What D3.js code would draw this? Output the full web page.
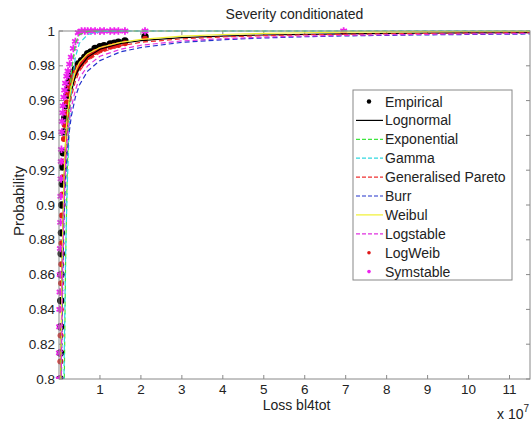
<!DOCTYPE html>
<html>
<head>
<meta charset="utf-8">
<script src="https://cdn.jsdelivr.net/npm/d3@7"></script>
<style>
  body { margin: 0; background: #fff; }
  text { font-family: "Liberation Sans", Arial, sans-serif; fill: #222; }
</style>
</head>
<body>
<div id="chart"></div>
<script>
// loss values are in units of 1e7
var xGrid = [0.005, 0.01, 0.02, 0.03, 0.05, 0.08, 0.12, 0.16, 0.2, 0.25, 0.3, 0.4, 0.5, 0.7, 1, 1.5, 2, 3, 4, 5, 6, 7, 8, 9, 10, 11, 11.5];

var lognormal   = [0.55, 0.62, 0.70, 0.75, 0.81, 0.87, 0.912, 0.935, 0.948, 0.958, 0.965, 0.974, 0.979, 0.985, 0.9895, 0.9928, 0.9945, 0.9962, 0.9971, 0.9977, 0.9981, 0.9984, 0.9986, 0.9988, 0.9989, 0.9990, 0.9991];
var exponential = [0.06, 0.12, 0.22, 0.31, 0.46, 0.63, 0.78, 0.865, 0.918, 0.956, 0.976, 0.993, 0.998, 0.9998, 1, 1, 1, 1, 1, 1, 1, 1, 1, 1, 1, 1, 1];
var gamma       = [0.15, 0.22, 0.33, 0.41, 0.54, 0.68, 0.80, 0.87, 0.91, 0.945, 0.965, 0.985, 0.993, 0.998, 0.9997, 1, 1, 1, 1, 1, 1, 1, 1, 1, 1, 1, 1];
var genPareto   = [0.50, 0.58, 0.67, 0.73, 0.80, 0.86, 0.905, 0.93, 0.944, 0.955, 0.962, 0.971, 0.977, 0.983, 0.9875, 0.9915, 0.9935, 0.9955, 0.9966, 0.9973, 0.9978, 0.9981, 0.9984, 0.9986, 0.9988, 0.9989, 0.9990];
var burr        = [0.45, 0.54, 0.64, 0.70, 0.78, 0.845, 0.89, 0.915, 0.93, 0.942, 0.951, 0.962, 0.969, 0.977, 0.983, 0.988, 0.9905, 0.9935, 0.9950, 0.9960, 0.9967, 0.9972, 0.9975, 0.9978, 0.9980, 0.9982, 0.9983];
var weibul      = [0.52, 0.60, 0.69, 0.75, 0.815, 0.873, 0.915, 0.938, 0.951, 0.961, 0.968, 0.977, 0.982, 0.987, 0.9905, 0.9935, 0.9952, 0.9970, 0.9980, 0.9986, 0.9990, 0.9993, 0.9995, 0.9996, 0.9997, 0.9998, 0.9998];
var logstable   = [0.48, 0.57, 0.66, 0.72, 0.79, 0.852, 0.897, 0.922, 0.937, 0.948, 0.956, 0.966, 0.973, 0.980, 0.9855, 0.9895, 0.9918, 0.9943, 0.9956, 0.9965, 0.9971, 0.9975, 0.9978, 0.9981, 0.9983, 0.9985, 0.9986];

// point series
var empX     = [0.005, 0.01, 0.015, 0.02, 0.025, 0.03, 0.035, 0.04, 0.045, 0.05, 0.055, 0.06, 0.07, 0.08, 0.09, 0.10, 0.12, 0.14, 0.16, 0.19, 0.22, 0.26, 0.30, 0.35, 0.40, 0.47, 0.55, 0.63, 0.70, 0.78, 0.88, 1.00, 1.10, 1.25, 1.35, 1.45, 1.61, 2.10, 6.95];
var empP     = [0.70, 0.73, 0.76, 0.78, 0.79, 0.800, 0.815, 0.830, 0.845, 0.860, 0.872, 0.884, 0.900, 0.912, 0.922, 0.930, 0.942, 0.950, 0.957, 0.963, 0.967, 0.971, 0.974, 0.976, 0.978, 0.981, 0.983, 0.985, 0.987, 0.988, 0.990, 0.991, 0.9915, 0.9925, 0.993, 0.9935, 0.9943, 0.9967, null];
var logWeibP = [0.69, 0.72, 0.75, 0.77, 0.785, 0.795, 0.81, 0.825, 0.84, 0.855, 0.866, 0.878, 0.894, 0.906, 0.916, 0.925, 0.938, 0.946, 0.953, 0.959, 0.964, 0.968, 0.971, 0.974, 0.976, 0.979, 0.981, 0.983, 0.985, 0.986, 0.988, 0.989, 0.990, 0.991, 0.9915, 0.992, 0.993, 0.9955, 0.9995];
var symP     = [0.80, 0.815, 0.83, 0.84, 0.85, 0.86, 0.875, 0.89, 0.905, 0.915, 0.925, 0.932, 0.942, 0.948, 0.953, 0.957, 0.962, 0.966, 0.970, 0.974, 0.977, 0.981, 0.985, 0.990, 0.994, 0.999, 1, 1, 1, 1, 1, 1, 1, 1, 1, 1, 1, 1, 1];

var xTicks = [1, 2, 3, 4, 5, 6, 7, 8, 9, 10, 11];
var yTicks = [0.8, 0.82, 0.84, 0.86, 0.88, 0.9, 0.92, 0.94, 0.96, 0.98, 1];

var lineSeries = [
  { name: "Lognormal", vals: lognormal, color: "#000", dash: null },
  { name: "Exponential", vals: exponential, color: "#3ee63e", dash: "5,3" },
  { name: "Gamma", vals: gamma, color: "#30d8e0", dash: "5,3" },
  { name: "Generalised Pareto", vals: genPareto, color: "#f03030", dash: "5,3" },
  { name: "Burr", vals: burr, color: "#2233cc", dash: "5,3" },
  { name: "Weibul", vals: weibul, color: "#f0f030", dash: null },
  { name: "Logstable", vals: logstable, color: "#e030e0", dash: "5,3" }
];

var margin = { left: 59, top: 31, right: 1, bottom: 42 },
    W = 531, H = 421,
    width = W - margin.left - margin.right,
    height = H - margin.top - margin.bottom;

var svg = d3.select("#chart").append("svg")
    .attr("width", W).attr("height", H);

svg.append("defs").append("clipPath").attr("id", "clip")
  .append("rect").attr("x", -4).attr("y", -4).attr("width", width + 4).attr("height", height + 4);

var g = svg.append("g").attr("transform", "translate(" + margin.left + "," + margin.top + ")");

var x = d3.scaleLinear().domain([0, 11.5]).range([0, width]);
var y = d3.scaleLinear().domain([0.8, 1]).range([height, 0]);

var axisColor = "#888";

// ticks (inward, all four sides)
g.selectAll(".xt").data(xTicks).enter().append("line")
  .attr("x1", d => x(d)).attr("x2", d => x(d)).attr("y1", height).attr("y2", height - 4)
  .attr("stroke", axisColor);
g.selectAll(".xtt").data(xTicks).enter().append("line")
  .attr("x1", d => x(d)).attr("x2", d => x(d)).attr("y1", 0).attr("y2", 4)
  .attr("stroke", axisColor);
g.selectAll(".yt").data(yTicks).enter().append("line")
  .attr("x1", 0).attr("x2", 4).attr("y1", d => y(d)).attr("y2", d => y(d))
  .attr("stroke", axisColor);
g.selectAll(".ytr").data(yTicks).enter().append("line")
  .attr("x1", width).attr("x2", width - 4).attr("y1", d => y(d)).attr("y2", d => y(d))
  .attr("stroke", axisColor);

// tick labels
g.selectAll(".xl").data(xTicks).enter().append("text")
  .attr("x", d => x(d)).attr("y", height + 10)
  .attr("text-anchor", "middle").attr("dominant-baseline", "central")
  .style("font-size", "13.5px").text(d => d);
g.selectAll(".yl").data(yTicks).enter().append("text")
  .attr("x", -4).attr("y", d => y(d))
  .attr("text-anchor", "end").attr("dominant-baseline", "central")
  .style("font-size", "13.5px").text(d => d3.format("")(+d.toFixed(2)));

var plot = g.append("g").attr("clip-path", "url(#clip)");

var line = d3.line()
  .x(d => x(d[0])).y(d => y(d[1]));

// empirical first
plot.selectAll(".emp").data(empX.map((v, i) => [v, empP[i]]).filter(d => d[1] != null && d[1] >= 0.8))
  .enter().append("circle")
  .attr("cx", d => x(d[0])).attr("cy", d => y(d[1])).attr("r", 3.7)
  .attr("fill", "#000");

var lineClip = g.append("g").attr("clip-path", "url(#clip)");
lineSeries.forEach(function (s) {
  lineClip.append("path")
    .datum(xGrid.map((v, i) => [v, s.vals[i]]))
    .attr("d", line)
    .attr("fill", "none")
    .attr("stroke", s.color)
    .attr("stroke-width", 1.2)
    .attr("stroke-dasharray", s.dash);
});

plot.selectAll(".lw").data(empX.map((v, i) => [v, logWeibP[i]]).filter(d => d[1] >= 0.8))
  .enter().append("circle")
  .attr("cx", d => x(d[0])).attr("cy", d => y(d[1])).attr("r", 3)
  .attr("fill", "#e01818");

plot.selectAll(".sym").data(empX.map((v, i) => [v, symP[i]]))
  .enter().append("path")
  .attr("transform", d => "translate(" + x(d[0]) + "," + y(d[1]) + ")")
  .attr("d", d3.symbol().type(d3.symbolAsterisk).size(40))
  .attr("fill", "none").attr("stroke", "#ee22ee").attr("stroke-width", 1.8);

// frame
g.append("rect").attr("width", width).attr("height", height)
  .attr("fill", "none").attr("stroke", axisColor);

// titles
svg.append("text").attr("x", margin.left + width / 2).attr("y", 14)
  .attr("text-anchor", "middle").attr("dominant-baseline", "central")
  .style("font-size", "14px").text("Severity conditionated");
svg.append("text").attr("x", margin.left + width / 2 + 2).attr("y", 405)
  .attr("text-anchor", "middle").attr("dominant-baseline", "central")
  .style("font-size", "14px").text("Loss bl4tot");
svg.append("text").attr("transform", "translate(18,201) rotate(-90)")
  .attr("text-anchor", "middle").attr("dominant-baseline", "central")
  .style("font-size", "15px").text("Probability");
var mult = svg.append("text").attr("x", 497).attr("y", 414)
  .attr("dominant-baseline", "central").style("font-size", "14px");
mult.append("tspan").text("x 10");
mult.append("tspan").attr("dy", -6).style("font-size", "10px").text("7");

// legend
var legend = svg.append("g");
legend.append("rect").attr("x", 353).attr("y", 90).attr("width", 159).attr("height", 190)
  .attr("fill", "#fff").attr("stroke", axisColor);

var legendItems = [{ name: "Empirical", type: "dot", color: "#000", r: 2.2 }]
  .concat(lineSeries.map(s => ({ name: s.name, type: "line", color: s.color, dash: s.dash })))
  .concat([{ name: "LogWeib", type: "dot", color: "#e01818", r: 1.8 },
           { name: "Symstable", type: "dot", color: "#ee22ee", r: 1.8 }]);

legendItems.forEach(function (d, i) {
  var ly = 101.5 + i * 18.9;
  if (d.type == "line") {
    legend.append("line").attr("x1", 356).attr("x2", 383).attr("y1", ly).attr("y2", ly)
      .attr("stroke", d.color).attr("stroke-width", 1.2).attr("stroke-dasharray", d.dash ? "4,2" : null);
  } else {
    legend.append("circle").attr("cx", 369).attr("cy", ly).attr("r", d.r).attr("fill", d.color);
  }
  legend.append("text").attr("x", 385).attr("y", ly)
    .attr("dominant-baseline", "central").style("font-size", "14px").text(d.name);
});
</script>
</body>
</html>
